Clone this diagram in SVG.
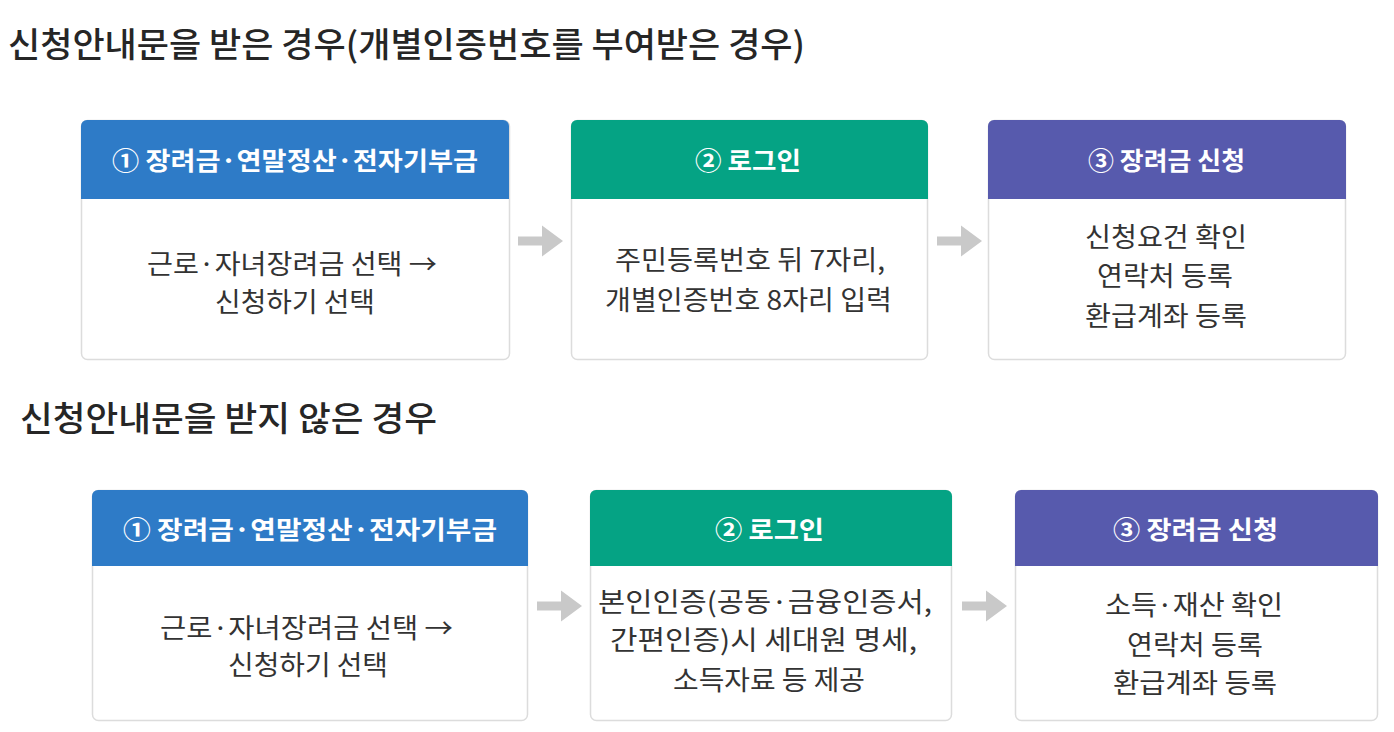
<svg xmlns="http://www.w3.org/2000/svg" width="1394" height="732" viewBox="0 0 1394 732">
<style>
.ttl{font-family:"Noto Sans CJK KR","Noto Sans",sans-serif;font-size:34px;font-weight:500;fill:#262626}
.box{fill:#fff;stroke:#dcdcdc;stroke-width:1.5}
.hd{font-family:"Noto Sans CJK KR","Noto Sans",sans-serif;font-size:25px;font-weight:700;fill:#fff;text-anchor:middle}
.bd{font-family:"Noto Sans CJK KR","Noto Sans",sans-serif;font-size:27px;font-weight:400;fill:#333;text-anchor:middle}
.arr{fill:#c9c9c9}
.blue{fill:#2e7bc7}
.green{fill:#05a384}
.purple{fill:#575aad}
</style>
<defs>
<path id="arrowShape" d="M0,-4.5 H24 V-15.5 L45,0 L24,15.5 V4.5 H0 Z"/>
</defs>
<rect width="1394" height="732" fill="#fff"/>
<text class="ttl" x="8" y="57" textLength="797" lengthAdjust="spacingAndGlyphs">신청안내문을 받은 경우(개별인증번호를 부여받은 경우)</text>
<text class="ttl" x="20" y="431" textLength="417" lengthAdjust="spacingAndGlyphs">신청안내문을 받지 않은 경우</text>

<g id="connectors">
<use href="#arrowShape" class="arr" x="518" y="241"/>
<use href="#arrowShape" class="arr" x="937" y="241"/>
<use href="#arrowShape" class="arr" x="537" y="606"/>
<use href="#arrowShape" class="arr" x="962" y="606"/>
</g>

<g id="r1-step1">
<rect class="box" x="81.5" y="120.5" width="428" height="239" rx="6"/>
<path class="blue" d="M81,126 a6,6 0 0 1 6,-6 H503 a6,6 0 0 1 6,6 V199 H81 Z"/>
<text class="hd" x="295" y="170" textLength="366" lengthAdjust="spacingAndGlyphs">① 장려금·연말정산·전자기부금</text>
<text class="bd" x="292" y="274" textLength="290" lengthAdjust="spacingAndGlyphs">근로·자녀장려금 선택 →</text>
<text class="bd" x="295" y="312" textLength="160" lengthAdjust="spacingAndGlyphs">신청하기 선택</text>
</g>
<g id="r1-step2">
<rect class="box" x="571.5" y="120.5" width="356" height="239" rx="6"/>
<path class="green" d="M571,126 a6,6 0 0 1 6,-6 H922 a6,6 0 0 1 6,6 V199 H571 Z"/>
<text class="hd" x="748" y="170" textLength="106" lengthAdjust="spacingAndGlyphs">② 로그인</text>
<text class="bd" x="750" y="270" textLength="270" lengthAdjust="spacingAndGlyphs">주민등록번호 뒤 7자리,</text>
<text class="bd" x="748.5" y="310" textLength="287" lengthAdjust="spacingAndGlyphs">개별인증번호 8자리 입력</text>
</g>
<g id="r1-step3">
<rect class="box" x="988.5" y="120.5" width="357" height="239" rx="6"/>
<path class="purple" d="M988,126 a6,6 0 0 1 6,-6 H1340 a6,6 0 0 1 6,6 V199 H988 Z"/>
<text class="hd" x="1166.5" y="170" textLength="157" lengthAdjust="spacingAndGlyphs">③ 장려금 신청</text>
<text class="bd" x="1166" y="247" textLength="162" lengthAdjust="spacingAndGlyphs">신청요건 확인</text>
<text class="bd" x="1165" y="286" textLength="136" lengthAdjust="spacingAndGlyphs">연락처 등록</text>
<text class="bd" x="1166" y="326" textLength="162" lengthAdjust="spacingAndGlyphs">환급계좌 등록</text>
</g>

<g id="r2-step1">
<rect class="box" x="92.5" y="490.5" width="435" height="230" rx="6"/>
<path class="blue" d="M92,496 a6,6 0 0 1 6,-6 H522 a6,6 0 0 1 6,6 V566 H92 Z"/>
<text class="hd" x="310" y="539" textLength="374" lengthAdjust="spacingAndGlyphs">① 장려금·연말정산·전자기부금</text>
<text class="bd" x="306.5" y="638" textLength="293" lengthAdjust="spacingAndGlyphs">근로·자녀장려금 선택 →</text>
<text class="bd" x="308" y="675" textLength="160" lengthAdjust="spacingAndGlyphs">신청하기 선택</text>
</g>
<g id="r2-step2">
<rect class="box" x="590.5" y="490.5" width="361" height="230" rx="6"/>
<path class="green" d="M590,496 a6,6 0 0 1 6,-6 H946 a6,6 0 0 1 6,6 V566 H590 Z"/>
<text class="hd" x="769.5" y="539" textLength="109" lengthAdjust="spacingAndGlyphs">② 로그인</text>
<text class="bd" x="765" y="612" textLength="334" lengthAdjust="spacingAndGlyphs">본인인증(공동·금융인증서,</text>
<text class="bd" x="763.5" y="650" textLength="307" lengthAdjust="spacingAndGlyphs">간편인증)시 세대원 명세,</text>
<text class="bd" x="769" y="690" textLength="192" lengthAdjust="spacingAndGlyphs">소득자료 등 제공</text>
</g>
<g id="r2-step3">
<rect class="box" x="1015.5" y="490.5" width="362" height="230" rx="6"/>
<path class="purple" d="M1015,496 a6,6 0 0 1 6,-6 H1372 a6,6 0 0 1 6,6 V566 H1015 Z"/>
<text class="hd" x="1195.5" y="539" textLength="165" lengthAdjust="spacingAndGlyphs">③ 장려금 신청</text>
<text class="bd" x="1194" y="615" textLength="178" lengthAdjust="spacingAndGlyphs">소득·재산 확인</text>
<text class="bd" x="1195" y="655" textLength="136" lengthAdjust="spacingAndGlyphs">연락처 등록</text>
<text class="bd" x="1195" y="693" textLength="164" lengthAdjust="spacingAndGlyphs">환급계좌 등록</text>
</g>
</svg>
